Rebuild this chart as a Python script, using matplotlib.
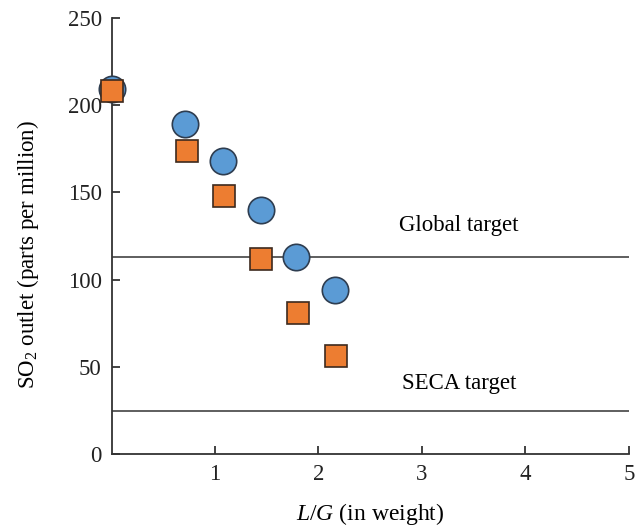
import matplotlib
matplotlib.use("Agg")
import matplotlib.pyplot as plt

plt.rcParams['font.family'] = ['Liberation Serif', 'DejaVu Serif']
plt.rcParams['mathtext.fontset'] = 'custom'
plt.rcParams['mathtext.rm'] = 'Liberation Serif'
plt.rcParams['mathtext.it'] = 'Liberation Serif:italic'

lg_circle = [0.0, 0.71, 1.08, 1.44, 1.78, 2.16]
so2_circle = [209, 189, 168, 140, 113, 94]
lg_square = [0.0, 0.73, 1.09, 1.44, 1.80, 2.17]
so2_square = [208, 174, 148, 112, 81, 56]
targets = [113, 24.5]
target_labels = ["Global target", "SECA target"]
xticks = [1, 2, 3, 4, 5]
yticks = [0, 50, 100, 150, 200, 250]

fig = plt.figure(figsize=(6.38, 5.28), dpi=100)
ax = fig.add_axes([0.1748, 0.14, 0.811, 0.826])

for t in targets:
    ax.axhline(t, color='#333333', lw=1.1, zorder=1)

ax.plot(lg_circle, so2_circle, 'o', ms=19, mfc='#5b9bd5', mec='#2e3d50', mew=1.2, ls='none', zorder=3, clip_on=False)
ax.plot(lg_square, so2_square, 's', ms=16.5, mfc='#ed7d31', mec='#3d2a1e', mew=1.2, ls='none', zorder=4, clip_on=False)

ax.text(3.36, 131, target_labels[0], ha='center', va='center', fontsize=16.5)
ax.text(3.36, 40.5, target_labels[1], ha='center', va='center', fontsize=16.5)

ax.set_xlim(0, 5)
ax.set_ylim(0, 250)
ax.set_xticks(xticks)
ax.set_yticks(yticks)
ax.tick_params(direction='in', labelsize=16.5, length=6, width=1.2, pad=7, colors='#222222')
for s in ['top', 'right']:
    ax.spines[s].set_visible(False)
for s in ['left', 'bottom']:
    ax.spines[s].set_linewidth(1.3)
    ax.spines[s].set_color('#333333')

ax.set_xlabel(r"$L/G$ (in weight)", fontsize=17)
ax.set_ylabel(r"SO$_2$ outlet (parts per million)", fontsize=16.5)
ax.xaxis.set_label_coords(0.5, -0.137)
ax.yaxis.set_label_coords(-0.162, 0.458)
ax.xaxis.label.set_va('center')
ax.yaxis.label.set_va('center')

fig.savefig("out.png", dpi=100)
